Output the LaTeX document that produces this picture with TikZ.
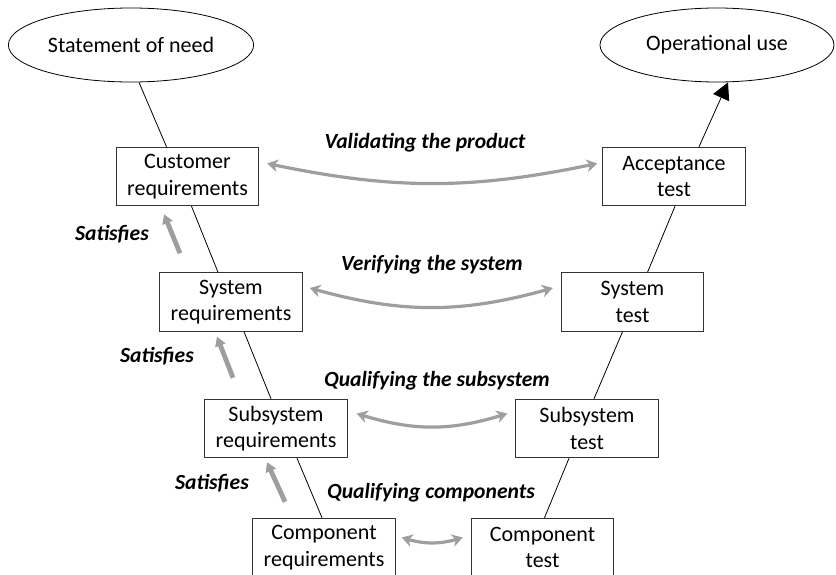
\documentclass[tikz,border=0pt]{standalone}
\usepackage{fontspec}
\setmainfont{Carlito}
\usetikzlibrary{arrows.meta, bending, shapes.geometric}

\begin{document}
\begin{tikzpicture}[x=0.75pt, y=-0.75pt,
  stage/.style={draw=black!80, fill=white, line width=0.6pt, align=center,
    minimum width=107pt, minimum height=44pt, inner sep=2pt,
    font=\fontsize{16.5}{20}\selectfont},
  goal/.style={draw, ellipse, fill=white, line width=0.6pt, inner sep=0pt,
    minimum height=55.5pt, font=\fontsize{16.5}{20}\selectfont},
  vee/.style={line width=0.6pt},
  twoway/.style={draw=black!38, line width=2.4pt,
    {Stealth[length=8pt, width=9.5pt, inset=2.5pt]}-{Stealth[length=8pt, width=9.5pt, inset=2.5pt]}},
  sat/.style={draw=black!38, line width=3.6pt, -{Triangle[length=7pt, width=8pt]}},
  lbl/.style={font=\fontsize{16.2}{18}\selectfont\bfseries\itshape}]
\useasboundingbox (0,0) rectangle (836,575);

% goals at both ends of the V
\node[goal, minimum width=184pt] (need) at (131,45) {Statement of need};
\node[goal, minimum width=175.5pt] (opuse) at (717,45) {Operational use};

% left arm: requirements
\node[stage] (custreq) at (187.5,176.5) {Customer\\requirements};
\node[stage] (sysreq) at (231,302) {System\\requirements};
\node[stage] (subreq) at (276,428.5) {Subsystem\\requirements};
\node[stage] (compreq) at (324,547.5) {Component\\requirements};

% right arm: tests
\node[stage] (acctest) at (674,176.5) {Acceptance\\test};
\node[stage] (systest) at (632.5,302) {System\\test};
\node[stage] (subtest) at (587,428.5) {Subsystem\\test};
\node[stage] (comptest) at (542.5,547.5) {Component\\test};

% the V itself
\draw[vee] ([shift={(8,0)}]need.south) -- ([shift={(-21,0)}]custreq.north);
\draw[vee] ([shift={(4,0)}]custreq.south) -- ([shift={(-13,0)}]sysreq.north);
\draw[vee] ([shift={(13,0)}]sysreq.south) -- ([shift={(-5,0)}]subreq.north);
\draw[vee] ([shift={(21,0)}]subreq.south) -- ([shift={(-2,0)}]compreq.north);
\draw[vee] ([shift={(2,0)}]comptest.north) -- ([shift={(-18,0)}]subtest.south);
\draw[vee] ([shift={(7,0)}]subtest.north) -- ([shift={(-10,0)}]systest.south);
\draw[vee] ([shift={(15,0)}]systest.north) -- ([shift={(1,0)}]acctest.south);
\draw[vee, -{Triangle[length=12.5pt, width=13pt]}]
  ([shift={(25,0)}]acctest.north) -- ([shift={(11,0)}]opuse.south);

% cross links
\draw[twoway] ([shift={(8,-13)}]custreq.east) to[bend right=12] ([shift={(-5,-13)}]acctest.west);
\draw[twoway] ([shift={(7,-14)}]sysreq.east) to[bend right=16] ([shift={(-8,-14)}]systest.west);
\draw[twoway] ([shift={(9,-15)}]subreq.east) to[bend right=18] ([shift={(-8,-15)}]subtest.west);
\draw[twoway] ([shift={(6,-10)}]compreq.east) to[bend right=18] ([shift={(-8,-10)}]comptest.west);

\node[lbl] (validate) at (425,143) {Validating the product};
\node[lbl] (verify) at (432,265) {Verifying the system};
\node[lbl] (qualsub) at (437,381) {Qualifying the subsystem};
\node[lbl] (qualcomp) at (431,493) {Qualifying components};

% satisfies arrows
\draw[sat] ([shift={(-51,-19)}]sysreq.north) -- ([shift={(-23.5,8)}]custreq.south);
\draw[sat] ([shift={(-43,-21)}]subreq.north) -- ([shift={(-14,5)}]sysreq.south);
\draw[sat] ([shift={(-39,-16)}]compreq.north) -- ([shift={(-9,4)}]subreq.south);
\node[lbl] (sat1) at (112,234) {Satisfies};
\node[lbl] (sat2) at (157,356) {Satisfies};
\node[lbl] (sat3) at (212,483) {Satisfies};
\end{tikzpicture}
\end{document}
